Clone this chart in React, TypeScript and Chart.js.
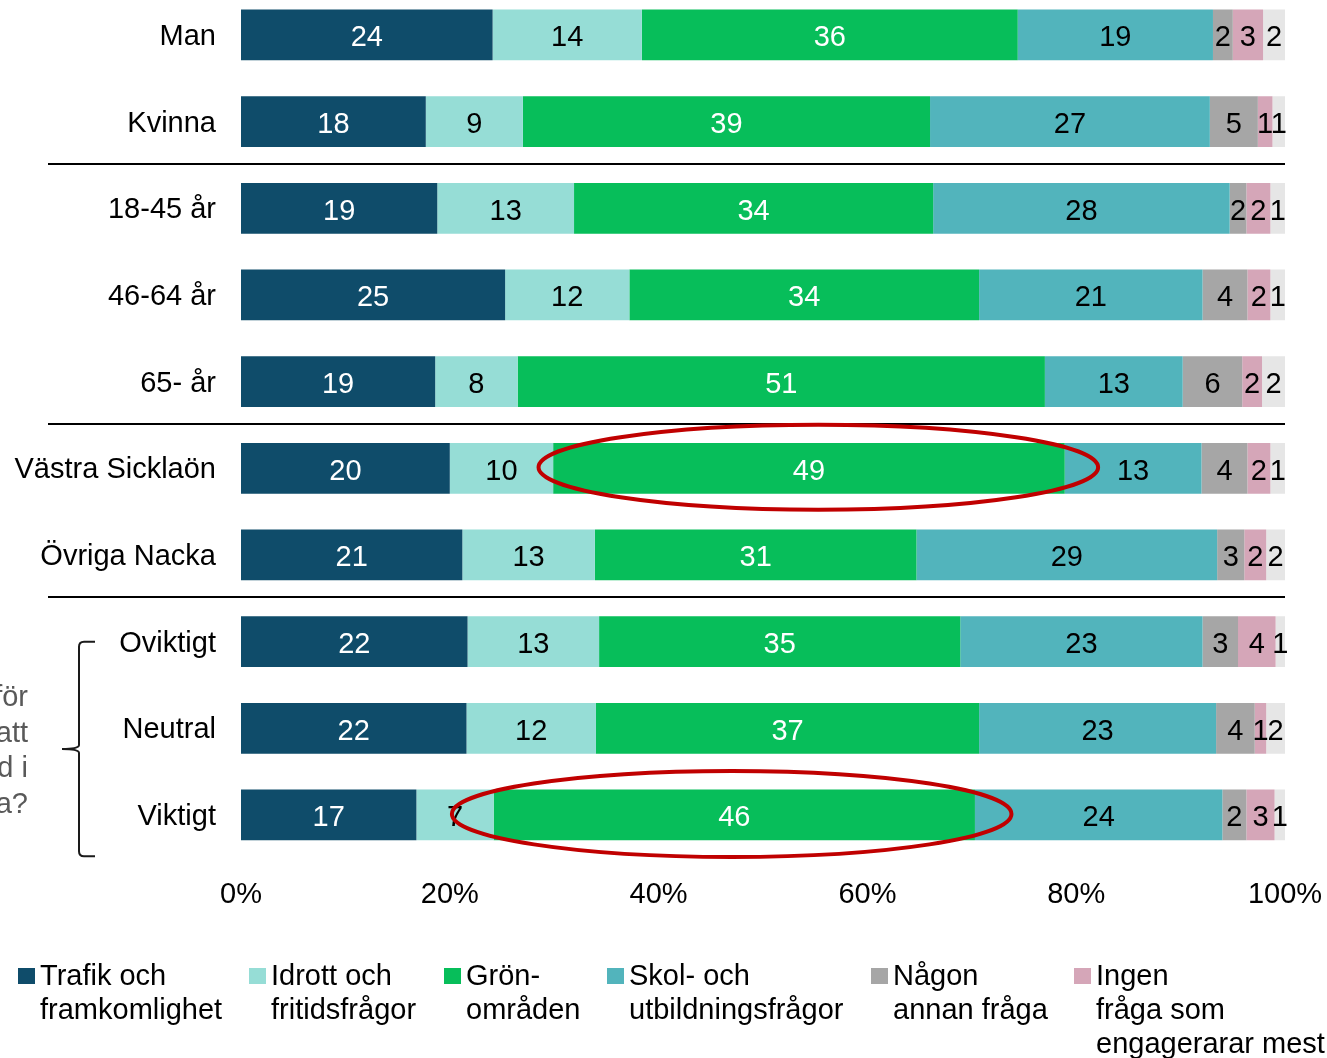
import React, { useEffect, useRef } from "react";
import { Chart, registerables } from "chart.js";

Chart.register(...registerables);

const categories = [
  "Man",
  "Kvinna",
  "18-45 år",
  "46-64 år",
  "65- år",
  "Västra Sicklaön",
  "Övriga Nacka",
  "Oviktigt",
  "Neutral",
  "Viktigt",
];

const seriesNames = [
  "Trafik och\nframkomlighet",
  "Idrott och\nfritidsfrågor",
  "Grön-\nområden",
  "Skol- och\nutbildningsfrågor",
  "Någon\nannan fråga",
  "Ingen\nfråga som\nengagerarar mest",
  "Vet ej",
];

const trafik = [24.1, 17.7, 18.8, 25.3, 18.6, 20.0, 21.2, 21.7, 21.6, 16.8];
const idrott = [14.3, 9.3, 13.1, 11.9, 7.9, 9.9, 12.7, 12.6, 12.4, 7.4];
const gron = [36.0, 39.0, 34.4, 33.5, 50.5, 49.0, 30.8, 34.6, 36.7, 46.1];
const skol = [18.7, 26.8, 28.4, 21.4, 13.2, 13.1, 28.8, 23.2, 22.7, 23.7];
const nagon = [1.9, 4.6, 1.6, 4.3, 5.7, 4.4, 2.6, 3.4, 3.7, 2.3];
const ingen = [2.9, 1.4, 2.3, 2.2, 1.9, 2.2, 2.1, 3.6, 1.1, 2.7];
const vetej = [2.1, 1.2, 1.4, 1.4, 2.2, 1.4, 1.8, 0.9, 1.8, 1.0];

const xTickValues = [0, 20, 40, 60, 80, 100];
const sideQuestionLines = ["för", "att", "d i", "a?"];

// indices of rows after which a separator line is drawn
const separatorsAfter = [1, 4, 6];

const FONT = '"Liberation Sans", Arial, sans-serif';
const FS = 29;

const colors = ["#0f4c6a", "#96ddd6", "#07be5a", "#52b4bc", "#a6a6a6", "#d5a6b8", "#e6e6e6"];
const labelColors = ["#ffffff", "#000000", "#ffffff", "#000000", "#000000", "#000000", "#000000"];

const legendX = [18, 249, 444, 607, 871, 1074];

const CANVAS_OFFSET = 20;
const W = 1327;
const H = 1058 + CANVAS_OFFSET;

const zeroPad = (s: any) => {
  s.paddingLeft = 0;
  s.paddingRight = 0;
  s.paddingTop = 0;
  s.paddingBottom = 0;
};

const extrasPlugin = {
  id: "extras",
  afterDatasetsDraw(chart: any) {
    const ctx = chart.ctx;
    ctx.save();
    ctx.font = `${FS}px ${FONT}`;
    ctx.textAlign = "center";
    ctx.textBaseline = "middle";
    chart.data.datasets.forEach((ds: any, di: number) => {
      const meta = chart.getDatasetMeta(di);
      meta.data.forEach((el: any, i: number) => {
        const v = ds.data[i];
        const cx = (el.x + el.base) / 2;
        ctx.fillStyle = labelColors[di];
        ctx.fillText(String(Math.round(v)), cx, el.y + 3.5);
      });
    });
    ctx.restore();
  },
  afterDraw(chart: any) {
    const ctx = chart.ctx;
    const y = chart.scales.y;
    const x = chart.scales.x;
    const area = chart.chartArea;
    ctx.save();
    // separators
    ctx.strokeStyle = "#000000";
    ctx.lineWidth = 2;
    separatorsAfter.forEach((i) => {
      const yy = Math.round((y.getPixelForTick(i) + y.getPixelForTick(i + 1)) / 2) - 1;
      ctx.beginPath();
      ctx.moveTo(48, yy);
      ctx.lineTo(area.right, yy);
      ctx.stroke();
    });
    // brace
    const top = y.getPixelForTick(7);
    const bottom = area.bottom - 2;
    const mid = (top + bottom) / 2;
    ctx.strokeStyle = "#1a1a1a";
    ctx.lineWidth = 2;
    ctx.beginPath();
    ctx.moveTo(95, top);
    ctx.lineTo(84, top);
    ctx.quadraticCurveTo(79, top, 79, top + 5);
    ctx.lineTo(79, mid - 4);
    ctx.quadraticCurveTo(79, mid, 62, mid);
    ctx.quadraticCurveTo(79, mid, 79, mid + 4);
    ctx.lineTo(79, bottom - 5);
    ctx.quadraticCurveTo(79, bottom, 84, bottom);
    ctx.lineTo(95, bottom);
    ctx.stroke();
    // highlight ellipses
    const highlights = [
      { row: 5, center: 55.3, half: 26.8, ry: 42.5 },
      { row: 9, center: 47.0, half: 26.8, ry: 43 },
    ];
    ctx.strokeStyle = "#c00000";
    ctx.lineWidth = 4;
    highlights.forEach((h) => {
      const cx = x.getPixelForValue(h.center);
      const rx = x.getPixelForValue(h.center + h.half) - cx;
      const cy = y.getPixelForTick(h.row) - 1;
      ctx.beginPath();
      ctx.ellipse(cx, cy, rx, h.ry, 0, 0, Math.PI * 2);
      ctx.stroke();
    });
    ctx.restore();
  },
};

export default function App() {
  const ref = useRef<HTMLCanvasElement | null>(null);

  useEffect(() => {
    document.body.style.margin = "0";
    const canvas = ref.current;
    if (!canvas) return;
    const series = [trafik, idrott, gron, skol, nagon, ingen, vetej];
    const chart = new Chart(canvas, {
      type: "bar",
      data: {
        labels: categories,
        datasets: series.map((d, i) => ({
          label: seriesNames[i],
          data: d,
          backgroundColor: colors[i],
          borderWidth: 0,
          barPercentage: 0.585,
          categoryPercentage: 1,
        })),
      },
      options: {
        indexAxis: "y",
        responsive: false,
        animation: false,
        devicePixelRatio: 1,
        layout: { padding: { left: 0, right: 42, top: 11.6, bottom: 139.7 } },
        plugins: {
          legend: { display: false },
          tooltip: { enabled: false },
        },
        scales: {
          x: {
            stacked: true,
            min: 0,
            max: 100,
            afterFit: (s: any) => {
              s.height = 60;
              zeroPad(s);
            },
            afterBuildTicks: (s: any) => {
              s.ticks = xTickValues.map((v) => ({ value: v }));
            },
            grid: { display: false, drawTicks: false },
            border: { display: false },
            ticks: {
              padding: 19,
              color: "#000000",
              font: { family: FONT, size: FS },
              callback: (v: any) => `${v}%`,
            },
          },
          y: {
            stacked: true,
            afterFit: (s: any) => {
              s.width = 241;
              zeroPad(s);
            },
            grid: { display: false, drawTicks: false },
            border: { display: false },
            ticks: {
              padding: 25,
              labelOffset: 2,
              color: "#000000",
              font: { family: FONT, size: FS },
            },
          },
        },
      },
      plugins: [extrasPlugin],
    });
    return () => chart.destroy();
  }, []);

  return (
    <div
      style={{
        position: "absolute",
        left: 0,
        top: 0,
        width: W,
        height: 1058,
        overflow: "hidden",
        background: "#ffffff",
        fontFamily: FONT,
      }}
    >
      <canvas
        ref={ref}
        width={W}
        height={H}
        style={{ position: "absolute", left: 0, top: -CANVAS_OFFSET, width: W, height: H }}
      />
      <div
        style={{
          position: "absolute",
          left: -200,
          width: 228,
          top: 679,
          textAlign: "right",
          fontSize: FS,
          lineHeight: "35.5px",
          color: "#595959",
          whiteSpace: "pre",
        }}
      >
        {sideQuestionLines.join("\n")}
      </div>
      {seriesNames.slice(0, 6).map((name, i) => (
        <div key={i}>
          <div
            style={{
              position: "absolute",
              left: legendX[i],
              top: 968,
              width: 17,
              height: 16,
              background: colors[i],
            }}
          />
          <div
            style={{
              position: "absolute",
              left: legendX[i] + 22,
              top: 958,
              fontSize: FS,
              lineHeight: "34px",
              color: "#000000",
              whiteSpace: "pre",
            }}
          >
            {name}
          </div>
        </div>
      ))}
    </div>
  );
}
